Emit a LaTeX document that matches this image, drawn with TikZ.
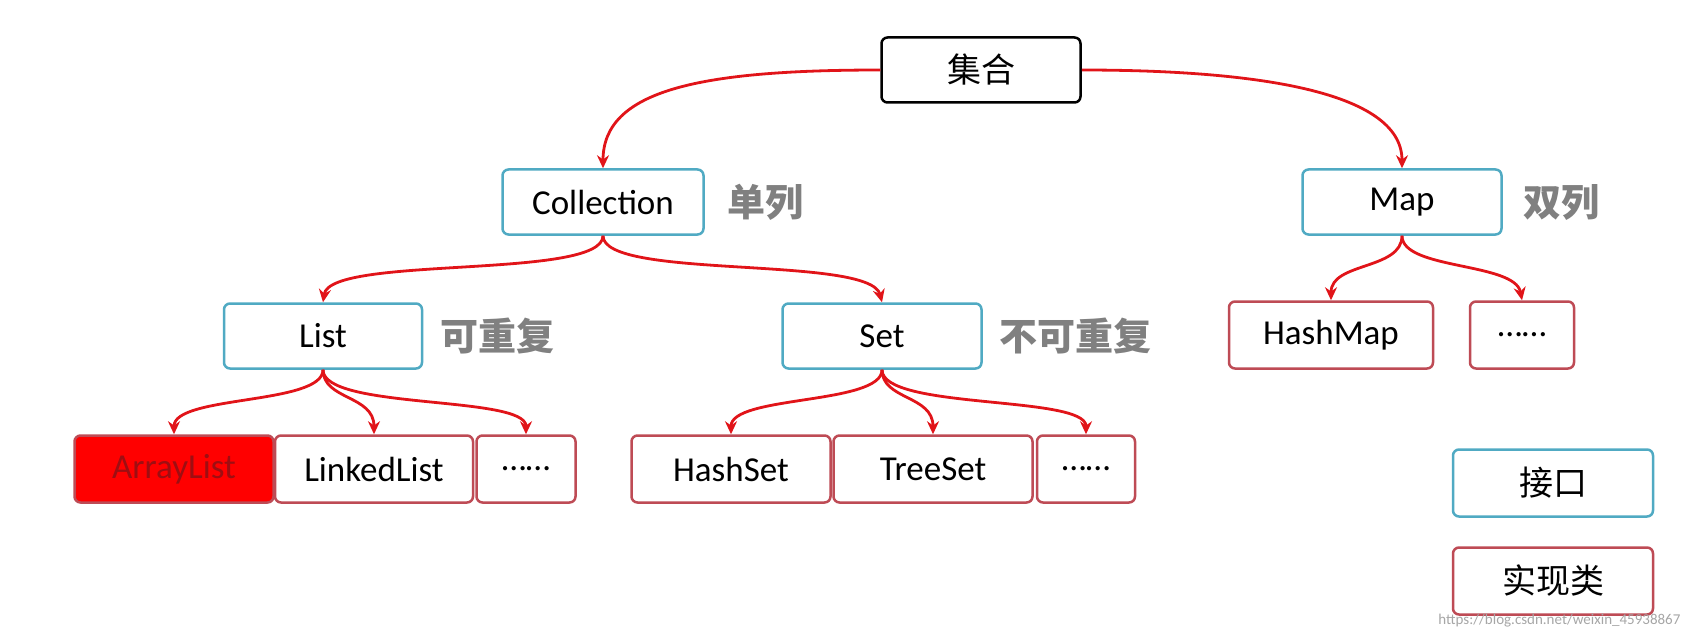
\documentclass[tikz,border=0pt]{standalone}
\usepackage{fontspec}
\setmainfont{Carlito}
\newfontfamily\cjk{Noto Sans CJK SC}
\usetikzlibrary{arrows.meta}
\definecolor{ib}{RGB}{80,170,195}
\definecolor{ir}{RGB}{190,75,85}
\definecolor{ar}{RGB}{225,20,25}
\tikzset{
 base/.style={rounded corners=6pt,line width=2.5pt,fill=white,minimum height=65pt,inner sep=0pt,font=\fontsize{35}{38}\selectfont},
 intf/.style={base,draw=ib},
 impl/.style={base,draw=ir,minimum height=67pt},
 lab/.style={font=\cjk\bfseries\fontsize{38}{40}\selectfont,text=gray},
 arr/.style={draw=ar,line width=2.8pt,-{Stealth[length=13pt,width=12pt]}}
}
\begin{document}
\begin{tikzpicture}[x=1pt,y=-1pt]
\useasboundingbox (0,0) rectangle (1686,639);
\node[base,draw=black,minimum width=199pt,font=\cjk\fontsize{34}{36}\selectfont] (root) at (981,70) {集合};
\node[intf,minimum width=201pt] (coll) at (603,202) {Collection};
\node[lab] at (765,202) {单列};
\node[intf,minimum width=199pt] (map) at (1402,202) {Map};
\node[lab] at (1561,202) {双列};
\node[intf,minimum width=198pt] (list) at (323,336) {List};
\node[lab] at (497,336) {可重复};
\node[intf,minimum width=199pt] (set) at (882,336) {Set};
\node[lab] at (1075,336) {不可重复};
\node[impl,minimum width=204pt] (hm) at (1331,335) {HashMap};
\node[impl,minimum width=104pt] (md) at (1522,335) {……};
\node[impl,minimum width=199pt,fill=red,text=ar!70!black] (al) at (174,469) {ArrayList};
\node[impl,minimum width=198pt] (ll) at (374,469) {LinkedList};
\node[impl,minimum width=99pt] (ld) at (526,469) {……};
\node[impl,minimum width=199pt] (hs) at (731,469) {HashSet};
\node[impl,minimum width=199pt] (ts) at (933,469) {TreeSet};
\node[impl,minimum width=98pt] (sd) at (1086,469) {……};
\node[intf,minimum width=200pt,minimum height=67pt,font=\cjk\fontsize{34}{36}\selectfont] (k1) at (1553,483) {接口};
\node[impl,minimum width=200pt,font=\cjk\fontsize{34}{36}\selectfont] (k2) at (1553,581) {实现类};
\node[text=gray!70,font=\fontsize{15}{16}\selectfont,anchor=east] (wm) at (1684,621) {https://blog.csdn.net/weixin\_45938867};
% arrows
\draw[arr] (root.west) .. controls (700,70) and (603,90) .. (coll.north);
\draw[arr] (root.east) .. controls (1250,70) and (1402,90) .. (map.north);
\draw[arr] (coll.south) .. controls (603,280) and (330,255) .. (list.north);
\draw[arr] (coll.south) .. controls (603,280) and (870,255) .. (set.north);
\draw[arr] (map.south) .. controls (1402,270) and (1331,262) .. (hm.north);
\draw[arr] (map.south) .. controls (1402,270) and (1515,262) .. (md.north);
\draw[arr] (list.south) .. controls (323,405) and (174,395) .. (al.north);
\draw[arr] (list.south) .. controls (323,400) and (374,395) .. (ll.north);
\draw[arr] (list.south) .. controls (323,410) and (526,395) .. (ld.north);
\draw[arr] (set.south) .. controls (882,405) and (731,395) .. (hs.north);
\draw[arr] (set.south) .. controls (882,400) and (933,395) .. (ts.north);
\draw[arr] (set.south) .. controls (882,410) and (1086,395) .. (sd.north);
\end{tikzpicture}
\end{document}
